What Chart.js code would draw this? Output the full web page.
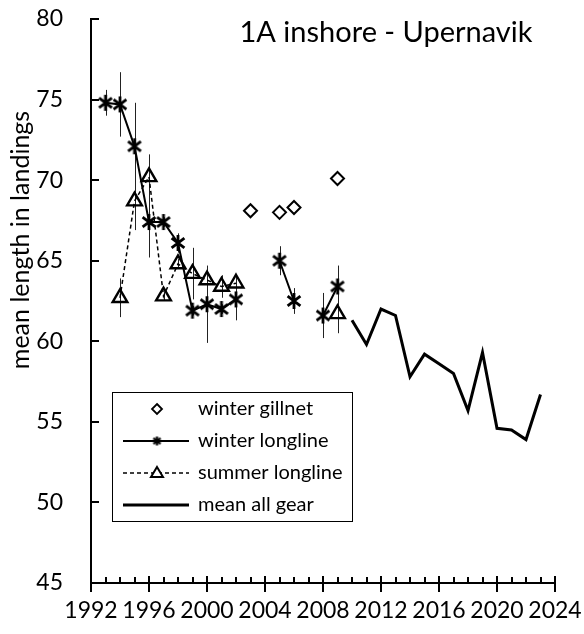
<!DOCTYPE html>
<html>
<head>
<meta charset="utf-8">
<title>1A inshore - Upernavik</title>
<script src="https://cdn.jsdelivr.net/npm/chart.js@4.4.1/dist/chart.umd.min.js"></script>
<style>
  html, body { margin: 0; padding: 0; background: #fff; }
  #wrap { width: 584px; height: 634px; }
</style>
</head>
<body>
<div id="wrap"><canvas id="chart"></canvas></div>
<script>
// --- data ---
const chartTitle = '1A inshore - Upernavik';
const yTitle = 'mean length in landings';

const gillnetYears = [2003, 2005, 2006, 2009];
const gillnetLength = [68.1, 68.0, 68.3, 70.1];

const winterYears = [1993, 1994, 1995, 1996, 1997, 1998, 1999, 2000, 2001, 2002, 2003, 2004, 2005, 2006, 2007, 2008, 2009];
const winterLength = [74.8, 74.7, 72.1, 67.4, 67.4, 66.1, 61.9, 62.3, 62.0, 62.6, null, null, 65.0, 62.5, null, 61.6, 63.4];
const winterErr = [0.8, 2.0, 2.7, 2.2, 0.3, 0.6, 0.3, 2.4, 0.3, 1.3, null, null, 0.9, 0.8, null, 1.4, 1.3];

const summerYears = [1994, 1995, 1996, 1997, 1998, 1999, 2000, 2001, 2002, 2003, 2004, 2005, 2006, 2007, 2008, 2009];
const summerLength = [62.7, 68.7, 70.2, 62.8, 64.8, 64.2, 63.8, 63.4, 63.6, null, null, null, null, null, null, 61.7];
const summerErr = [1.2, 1.8, 1.4, 0.3, 0.3, 1.6, 0.4, 0.7, 0.4, null, null, null, null, null, null, 1.2];

const allGearYears = [2010, 2011, 2012, 2013, 2014, 2015, 2016, 2017, 2018, 2019, 2020, 2021, 2022, 2023];
const allGearLength = [61.3, 59.8, 62.0, 61.6, 57.8, 59.2, 58.6, 58.0, 55.7, 59.3, 54.6, 54.5, 53.9, 56.7];

const legendLabels = ['winter gillnet', 'winter longline', 'summer longline', 'mean all gear'];

const FONT = 'Lato, "Open Sans", sans-serif';

const toPoints = (xs, ys) => xs.map((x, i) => ({ x: x, y: ys[i] }));

// excel-like asterisk marker
function makeStar(size, lw) {
  const c = document.createElement('canvas');
  c.width = c.height = size;
  const g = c.getContext('2d');
  const r = size / 2;
  const a = r - 1;
  const dx = a * 0.8, dy = a * 0.62;
  g.strokeStyle = '#000';
  g.lineWidth = lw;
  g.beginPath();
  g.moveTo(r, r - a); g.lineTo(r, r + a);
  g.moveTo(r - dx, r - dy); g.lineTo(r + dx, r + dy);
  g.moveTo(r + dx, r - dy); g.lineTo(r - dx, r + dy);
  g.stroke();
  return c;
}
const starMarker = makeStar(18, 2.8);
const starSmall = makeStar(11, 2.2);

// error bars, drawn from the value arrays through the scales
const errorBars = {
  id: 'errorBars',
  beforeDatasetsDraw(chart) {
    const { ctx, scales: { x, y } } = chart;
    ctx.save();
    ctx.strokeStyle = '#222';
    ctx.lineWidth = 1;
    [[winterYears, winterLength, winterErr], [summerYears, summerLength, summerErr]].forEach(([xs, ys, es]) => {
      xs.forEach((yr, i) => {
        if (ys[i] == null || !es[i]) return;
        const px = Math.round(x.getPixelForValue(yr)) + 0.5;
        ctx.beginPath();
        ctx.moveTo(px, y.getPixelForValue(ys[i] + es[i]));
        ctx.lineTo(px, y.getPixelForValue(ys[i] - es[i]));
        ctx.stroke();
      });
    });
    ctx.restore();
  }
};

// inside tick marks like the excel original
const axisTicks = {
  id: 'axisTicks',
  afterDraw(chart) {
    const { ctx, scales: { x, y } } = chart;
    const ax = x.left;
    const ay = y.bottom;
    ctx.save();
    ctx.strokeStyle = '#000';
    ctx.lineWidth = 2;
    ctx.beginPath();
    for (let v = y.min; v <= y.max; v += 5) {
      const py = Math.round(y.getPixelForValue(v));
      ctx.moveTo(ax, py); ctx.lineTo(ax + 8, py);
    }
    for (let yr = x.min; yr <= x.max; yr++) {
      const px = Math.round(x.getPixelForValue(yr));
      if (yr % 4 === 0) {
        ctx.moveTo(px, ay - 7); ctx.lineTo(px, ay + 9);
      } else {
        ctx.moveTo(px, ay - 6); ctx.lineTo(px, ay);
      }
    }
    ctx.stroke();
    ctx.restore();
  }
};

// chart title inside the plot, y axis title, legend box
const overlay = {
  id: 'overlay',
  afterDraw(chart) {
    const ctx = chart.ctx;
    ctx.save();
    ctx.fillStyle = '#000';
    ctx.font = '29px ' + FONT;
    ctx.textAlign = 'center';
    ctx.textBaseline = 'middle';
    ctx.fillText(chartTitle, 386, 33);

    ctx.save();
    ctx.translate(21, 240);
    ctx.rotate(-Math.PI / 2);
    ctx.font = '25px ' + FONT;
    ctx.fillText(yTitle, 0, 0);
    ctx.restore();

    // legend
    const bx = 112, by = 392, bw = 240, bh = 129;
    ctx.fillStyle = '#fff';
    ctx.fillRect(bx, by, bw, bh);
    ctx.strokeStyle = '#000';
    ctx.lineWidth = 1;
    ctx.strokeRect(bx + 0.5, by + 0.5, bw, bh);

    const rows = [409, 441, 473, 505];
    const x0 = 123, x1 = 189, xm = 157;
    ctx.font = '20px ' + FONT;
    ctx.textAlign = 'left';
    rows.forEach((ry, i) => {
      ctx.strokeStyle = '#000';
      ctx.setLineDash([]);
      if (i === 1) {
        ctx.lineWidth = 2;
        ctx.beginPath(); ctx.moveTo(x0, ry); ctx.lineTo(x1, ry); ctx.stroke();
        ctx.drawImage(starSmall, xm - starSmall.width / 2, ry - starSmall.height / 2);
      } else if (i === 2) {
        ctx.lineWidth = 1.5;
        ctx.setLineDash([4, 3]);
        ctx.beginPath(); ctx.moveTo(x0, ry); ctx.lineTo(x1, ry); ctx.stroke();
        ctx.setLineDash([]);
        ctx.lineWidth = 2;
        ctx.fillStyle = '#fff';
        ctx.beginPath();
        ctx.moveTo(xm, ry - 6); ctx.lineTo(xm + 6, ry + 4); ctx.lineTo(xm - 6, ry + 4); ctx.closePath();
        ctx.fill(); ctx.stroke();
      } else if (i === 3) {
        ctx.lineWidth = 3;
        ctx.beginPath(); ctx.moveTo(x0, ry); ctx.lineTo(x1, ry); ctx.stroke();
      } else {
        ctx.lineWidth = 1.8;
        ctx.fillStyle = '#fff';
        ctx.beginPath();
        ctx.moveTo(xm, ry - 5); ctx.lineTo(xm + 5, ry); ctx.lineTo(xm, ry + 5); ctx.lineTo(xm - 5, ry); ctx.closePath();
        ctx.fill(); ctx.stroke();
      }
      ctx.fillStyle = '#000';
      ctx.textBaseline = 'middle';
      ctx.fillText(legendLabels[i], 198, ry);
    });
    ctx.restore();
  }
};

const ctx = document.getElementById('chart').getContext('2d');
const chart = new Chart(ctx, {
  type: 'line',
  data: {
    datasets: [
      {
        label: legendLabels[0],
        data: toPoints(gillnetYears, gillnetLength),
        showLine: false,
        pointStyle: 'rectRot',
        pointRadius: 6.5,
        pointBorderWidth: 2,
        pointBorderColor: '#000',
        pointBackgroundColor: '#fff',
        borderColor: '#000'
      },
      {
        label: legendLabels[2],
        data: toPoints(summerYears, summerLength),
        borderColor: '#000',
        borderWidth: 1.5,
        borderDash: [4, 3],
        pointStyle: 'triangle',
        pointRadius: 8.5,
        pointBorderWidth: 2.4,
        pointBorderColor: '#000',
        pointBackgroundColor: 'rgba(255,255,255,0)',
        spanGaps: false
      },
      {
        label: legendLabels[1],
        data: toPoints(winterYears, winterLength),
        borderColor: '#000',
        borderWidth: 2,
        pointStyle: starMarker,
        pointRadius: 9,
        spanGaps: false
      },
      {
        label: legendLabels[3],
        data: toPoints(allGearYears, allGearLength),
        borderColor: '#000',
        borderWidth: 3,
        pointRadius: 0
      }
    ]
  },
  options: {
    responsive: true,
    maintainAspectRatio: false,
    animation: false,
    layout: { padding: { top: 19, right: 29, left: 0, bottom: 0 } },
    plugins: {
      legend: { display: false },
      tooltip: { enabled: false }
    },
    scales: {
      x: {
        type: 'linear',
        min: 1992,
        max: 2024,
        grid: { display: false, drawTicks: false },
        border: { display: true, color: '#000', width: 2 },
        ticks: {
          stepSize: 4,
          color: '#000',
          padding: 14,
          maxRotation: 0,
          font: { family: FONT, size: 23 },
          callback: v => String(v)
        },
        afterFit: s => { s.height = 51; s.paddingLeft = 0; s.paddingRight = 0; }
      },
      y: {
        min: 45,
        max: 80,
        grid: { display: false, drawTicks: false },
        border: { display: true, color: '#000', width: 2 },
        ticks: {
          stepSize: 5,
          color: '#000',
          padding: 28,
          font: { family: FONT, size: 23 }
        },
        afterFit: s => { s.width = 91; s.paddingTop = 0; s.paddingBottom = 0; }
      }
    }
  },
  plugins: [errorBars, axisTicks, overlay]
});
</script>
</body>
</html>
